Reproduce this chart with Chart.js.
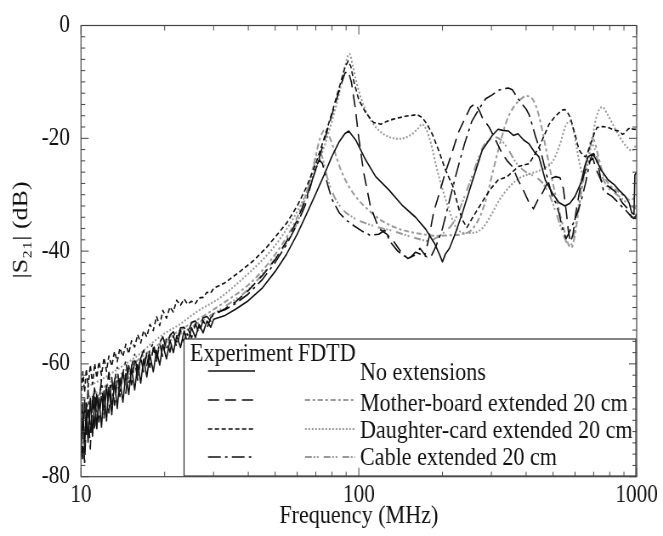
<!DOCTYPE html>
<html>
<head>
<meta charset="utf-8">
<title>|S21| versus frequency</title>
<script src="https://cdn.jsdelivr.net/npm/chart.js@4.4.1/dist/chart.umd.min.js"></script>
<style>
  html, body { margin: 0; padding: 0; background: #fff; }
</style>
</head>
<body>
<!-- drawn 780 wide, shown 663 wide: gives the narrow serif look of the scan -->
<canvas id="chart" width="780" height="536" style="display:block;width:663px;height:536px"></canvas>
<script>
// ---- data (frequency in MHz, |S21| in dB) ----

// noisy low-frequency part shared by the measured curves
const lowFreq = [10, 10.15, 10.3, 10.45, 10.6, 10.8, 11, 11.2, 11.4, 11.6, 11.85, 12.1, 12.35, 12.6, 12.9, 13.2, 13.5, 13.8, 14.15, 14.5,
  14.85, 15.2, 15.6, 16, 16.4, 16.8, 17.25, 17.7, 18.2, 18.7, 19.2, 19.7, 20.3, 20.9, 21.5, 22.1, 22.8, 23.5, 24.2, 25, 25.8, 26.6, 27.5, 28.4, 29.3, 30];

const expNoneLowDb = [-76.5, -68.4, -75.2, -67.0, -73.9, -66.1, -72.8, -65.9, -71.5, -66.0, -71.2, -64.8, -70.1, -64.2, -69.0, -63.1, -67.9, -62.6, -66.8, -61.7,
  -65.4, -60.8, -64.6, -60.1, -63.4, -59.2, -62.3, -58.4, -61.4, -57.6, -60.2, -56.6, -59.1, -55.8, -58.0, -55.0, -57.1, -54.2, -56.3, -53.6, -55.3, -53.0, -54.5, -52.4, -53.5, -52.1];
const expNoneHighFreq = [33, 36, 40, 45, 50, 55, 60, 65, 70, 75, 80, 85, 89, 92, 97.7, 106, 115, 128, 144, 160, 174, 188, 195, 200, 205, 212, 222, 236, 255, 278,
  302, 317, 330, 345, 360, 374, 392, 410, 430, 445, 469, 497, 525, 552, 575, 600, 630, 650, 668, 690, 706, 745, 790, 830, 860, 910, 940, 960, 978, 985, 1000];
const expNoneHighDb = [-51.4, -50.3, -48.8, -46.5, -43.6, -40.5, -37, -33.3, -29.8, -26.5, -23.2, -20.6, -19.2, -18.7, -20.4, -23.9, -26.8, -29.1, -32, -34, -36.1, -38.8, -40.6, -41.9, -40.5, -39.5, -37, -33.2, -27.9, -22.1,
  -19.5, -18.4, -18.6, -18.7, -19.5, -19.2, -20.3, -21, -22.5, -23.3, -27.4, -29.7, -31.4, -32, -31.5, -30.3, -27.9, -25, -23.3, -22.8, -23.3, -25.6, -27.4, -28.2, -29.1, -30.3, -31.5, -33.2, -33.5, -26.5, -26];

const expMbLowDb = [-71.0, -77.5, -66.3, -73.0, -68.2, -75.1, -65.4, -71.9, -64.8, -70.3, -65.2, -69.6, -63.5, -68.7, -62.4, -67.3, -62.9, -65.8, -61.0, -65.2,
  -60.3, -63.7, -59.4, -62.9, -58.7, -61.5, -58.0, -60.6, -57.2, -59.5, -56.4, -58.8, -55.6, -57.9, -55.0, -57.0, -54.1, -56.2, -53.6, -55.4, -52.9, -54.6, -52.3, -53.7, -51.8, -51.4];
const expMbHighFreq = [33, 36, 40, 45, 50, 55, 60, 65, 70, 75, 80, 85, 89, 91.5, 94, 97, 100, 104, 110, 118, 126, 134, 142, 150, 158, 166, 173, 179, 186, 195,
  205, 216, 228, 242, 252, 263, 272, 278, 295, 312, 328, 342, 357, 375, 390, 410, 425, 440, 460, 485, 510, 530, 545, 558, 568, 578, 590, 605, 625, 650,
  675, 695, 715, 745, 790, 840, 890, 930, 960, 990, 1000];
const expMbHighDb = [-50.2, -49.0, -47.0, -44.3, -41.5, -38.2, -34.5, -30.3, -25.5, -20.5, -15.8, -11.5, -8.5, -8.0, -10, -14.5, -20, -26, -32, -36, -37, -38.4, -40.2, -41.3, -40.8, -39.5, -40.7, -37.5, -33, -29.7,
  -26, -22.7, -19, -16.3, -14.5, -13.8, -15.2, -16.3, -18.1, -20.5, -22.7, -24, -25, -27.5, -29.1, -31.4, -32.5, -31, -29.5, -27.2, -26.8, -27, -29, -33, -36.5, -38.5, -37, -33, -29, -26,
  -24.2, -23.5, -25.5, -27.5, -28.5, -29.5, -31.5, -32.5, -34, -34.2, -33];

const expDcLowDb = [-66.2, -61.4, -65.0, -60.9, -64.1, -60.2, -63.6, -59.9, -62.5, -59.6, -62.0, -58.9, -61.3, -58.6, -60.4, -57.8, -59.6, -57.2, -58.7, -56.5,
  -58.2, -55.9, -57.0, -54.8, -56.3, -54.1, -55.2, -53.0, -54.1, -51.6, -53.2, -50.5, -51.9, -49.9, -50.8, -48.7, -49.6, -48.5, -49.4, -48.9, -49.3, -48.3, -48.2, -47.3, -47.4, -46.6];
const expDcHighFreq = [33, 37.6, 42, 46.8, 51, 55.2, 60, 65, 70, 75, 80, 85, 89, 91.5, 93.5, 96, 100, 106, 113, 120, 126, 133, 147, 162, 169, 176, 184, 195, 205, 218,
  229, 236, 245, 255, 270, 286, 300, 317, 342, 375, 410, 445, 465, 484, 505, 525, 540, 552, 565, 577, 588, 600, 612, 622, 640, 655, 672, 690, 705, 720,
  755, 790, 825, 860, 890, 910, 930, 950, 970, 990, 1000];
const expDcHighDb = [-45.6, -43.5, -41.6, -39.2, -37, -34.9, -32, -28.5, -24.5, -20, -15.5, -11, -7.5, -6.3, -7.2, -10, -13.2, -15.5, -17.2, -17.5, -17, -16.6, -16.1, -15.8, -16.3, -17.5, -19.3, -22.5, -25.6, -28.5,
  -32.5, -34.5, -35.8, -34.3, -32.3, -30.3, -28.8, -27.4, -26.8, -25, -24.5, -21.6, -19.5, -17.5, -16.3, -15.5, -15.0, -14.9, -15.5, -16.3, -17.8, -19.3, -21, -22.1, -23, -23.3, -22, -20.4, -19, -18.1,
  -17.9, -18.1, -18.5, -18.7, -19.3, -19, -18.4, -18.1, -18.4, -18.4, -18.6];

const expCableLowDb = [-73.8, -66.9, -78.0, -69.5, -64.7, -72.4, -67.8, -63.9, -70.6, -66.7, -62.8, -68.9, -64.6, -61.5, -67.2, -63.0, -60.6, -65.1, -61.6, -59.4,
  -63.5, -60.5, -58.3, -62.0, -59.0, -57.6, -60.3, -57.5, -56.3, -58.9, -56.2, -55.2, -57.4, -54.9, -54.3, -56.1, -53.6, -53.5, -54.9, -52.6, -52.4, -53.6, -51.8, -51.6, -52.4, -51.0];
const expCableHighFreq = [33, 36, 40, 45, 50, 55, 60, 64, 67, 70, 72, 74, 77, 80, 85, 90, 96, 103, 110, 118, 124, 130, 138, 145, 152, 160, 168, 176, 183, 190,
  200, 212, 225, 240, 255, 270, 286, 302, 318, 330, 345, 357, 372, 388, 400, 410, 420, 433, 445, 457, 469, 483, 497, 512, 525, 535, 545, 557, 568, 580,
  598, 618, 636, 655, 668, 680, 690, 700, 714, 728, 743, 758, 785, 815, 850, 880, 915, 950, 975, 1000];
const expCableHighDb = [-50.4, -49.3, -47.6, -45.0, -42.0, -38.8, -35.2, -32, -28.5, -25.2, -23.8, -24.5, -28, -30.8, -33.2, -34.5, -35.5, -36.5, -37.2, -37, -36.3, -38.4, -40, -40.8, -41.3, -40.2, -40.6, -41, -40.7, -39,
  -36, -31, -26, -21, -17, -14.9, -13, -12.3, -11.5, -11.2, -11.1, -11.4, -12.8, -14, -14.8, -15.8, -17.5, -19.8, -21.5, -23.3, -25.6, -28, -30.3, -31.5, -33.2, -35, -36.6, -37.8, -37, -36,
  -34.5, -32.6, -30.5, -27.9, -25.8, -23.9, -23, -22.7, -23.5, -25, -27.2, -29.1, -29.8, -30.3, -31.2, -32, -32.8, -33.7, -34.2, -33.5];

// FDTD results (smooth)
const fdtdMbFreq = [10, 11, 12, 13.5, 15, 17, 20, 24, 28, 33, 40, 47, 55, 60, 64, 67, 70, 72.5, 75, 78, 82, 86, 92, 100, 110, 120, 135, 150, 170, 190,
  210, 235, 255, 275, 290, 305, 320, 340, 360, 380, 400, 415, 432, 450, 470, 490, 510, 530, 550, 568, 582, 598, 615, 635, 655, 675, 692, 708, 730, 760,
  800, 850, 900, 950, 1000];
const fdtdMbDb = [-66.5, -65.5, -64.2, -62.3, -60.5, -58.3, -55.8, -53.3, -51.3, -49, -46, -42.3, -37.5, -34, -30.5, -27, -23, -20, -18.6, -19.5, -22.5, -25.5, -28.5, -31, -33, -34.5, -35.8, -36.5, -37, -37.3,
  -37.2, -37, -36.2, -33.5, -30, -25.5, -21.5, -17, -14.5, -13.2, -12.5, -12.7, -14, -17, -21.5, -26, -30, -33.5, -36.5, -38.8, -39.4, -37.5, -33.5, -29, -25, -21.5, -20, -20.8, -23.5, -26.5,
  -28.3, -29.3, -30.2, -31, -30];

const fdtdDcFreq = [10, 11, 12, 13.5, 15, 16.4, 18, 20, 22.8, 26, 31.8, 37, 44.3, 50, 55, 60, 65, 70, 75, 80, 85, 89, 92.4, 95, 98, 102, 108, 115, 125, 140,
  155, 163, 169, 175, 182, 190, 200, 210, 222, 240, 262, 280, 300, 320, 350, 380, 420, 460, 500, 530, 555, 575, 592, 610, 630, 650, 670, 690, 710, 735,
  755, 780, 820, 870, 920, 960, 1000];
const fdtdDcDb = [-64.5, -63.6, -62.6, -61, -59.5, -58.1, -56.3, -54.6, -52.9, -50.8, -48.2, -45.5, -41.9, -39, -36.1, -33, -29.5, -25.5, -21.5, -17, -12, -7.5, -5, -7, -10, -13, -16, -18, -19.5, -20.1,
  -19.3, -18.3, -17.5, -18.5, -21, -25, -29, -32.3, -35.5, -36.8, -36.7, -35.8, -33.5, -31, -28.5, -27, -26.2, -25.4, -24, -21, -17.8, -17, -18.5, -22, -25.5, -26.5, -24, -20.5, -17, -14.8,
  -14.5, -15.5, -17.5, -19.8, -21.5, -22.2, -21];

const fdtdCableFreq = [10, 11, 12, 13.5, 15, 17, 20, 24, 28, 33, 40, 47, 55, 60, 63, 66, 68.5, 70.5, 72, 74, 77, 81, 87, 95, 105, 118, 132, 148, 163, 178,
  192, 205, 220, 235, 250, 265, 280, 295, 310, 325, 345, 370, 400, 430, 460, 490, 515, 540, 560, 578, 595, 612, 630, 650, 670, 688, 705, 725, 755, 790,
  840, 890, 940, 1000];
const fdtdCableDb = [-67.5, -66.3, -65, -63, -61.2, -59, -56.5, -54, -52, -49.8, -46.8, -43, -38.5, -35, -32, -28.5, -25.5, -23, -22.2, -23.5, -27, -30, -32.5, -34, -35, -35.8, -36.4, -37.2, -37.8, -38.2,
  -37.5, -36.5, -34.8, -31.5, -28, -24.5, -21.5, -20.3, -19.8, -20.3, -22, -24.5, -26, -26.8, -28, -30.5, -33.5, -36.5, -38.5, -39, -37, -33.5, -29, -25.5, -22.5, -21, -21.8, -24, -27, -28.8,
  -29.8, -30.8, -31.8, -32.5];

const legendLabels = ['No extensions', 'Mother-board extended 20 cm', 'Daughter-card extended 20 cm', 'Cable extended 20 cm'];

// axis ticks
const xTickValues = [10, 100, 1000];
const xMinorTicks = [20, 30, 40, 50, 60, 70, 80, 90, 200, 300, 400, 500, 600, 700, 800, 900];
const yTickValues = [-80, -60, -40, -20, 0];
const yMinorStep = 2;

// ---- styles ----
const SERIF = '"Liberation Serif", "Times New Roman", "DejaVu Serif", serif';
const INK = '#111';
const GREY = '#9a9a9a';

function points(freq, db) {
  return freq.map((f, i) => ({ x: f, y: db[i] }));
}

const datasets = [
  { label: 'Experiment ' + legendLabels[0], data: points(lowFreq.concat(expNoneHighFreq), expNoneLowDb.concat(expNoneHighDb)),
    borderColor: INK, borderWidth: 1.6, borderDash: [] },
  { label: 'Experiment ' + legendLabels[1], data: points(lowFreq.concat(expMbHighFreq), expMbLowDb.concat(expMbHighDb)),
    borderColor: INK, borderWidth: 1.6, borderDash: [13, 7] },
  { label: 'Experiment ' + legendLabels[2], data: points(lowFreq.concat(expDcHighFreq), expDcLowDb.concat(expDcHighDb)),
    borderColor: INK, borderWidth: 1.6, borderDash: [5, 3] },
  { label: 'Experiment ' + legendLabels[3], data: points(lowFreq.concat(expCableHighFreq), expCableLowDb.concat(expCableHighDb)),
    borderColor: INK, borderWidth: 1.6, borderDash: [15, 5, 3, 5] },
  { label: 'FDTD ' + legendLabels[1], data: points(fdtdMbFreq, fdtdMbDb),
    borderColor: GREY, borderWidth: 2, borderDash: [6, 3, 3, 3], cubicInterpolationMode: 'monotone' },
  { label: 'FDTD ' + legendLabels[2], data: points(fdtdDcFreq, fdtdDcDb),
    borderColor: GREY, borderWidth: 2, borderDash: [2, 2], cubicInterpolationMode: 'monotone' },
  { label: 'FDTD ' + legendLabels[3], data: points(fdtdCableFreq, fdtdCableDb),
    borderColor: GREY, borderWidth: 2, borderDash: [8, 2, 2, 2, 2, 6], cubicInterpolationMode: 'monotone' },
];

// frame, inward ticks on all four sides, y title and the two-column legend
const framePlugin = {
  id: 'frameAndLegend',
  afterDraw(chart) {
    const { ctx, chartArea: a, scales: { x, y } } = chart;
    ctx.save();

    // legend box
    const box = { left: 216.5, top: 339, right: 748, bottom: 476 };
    ctx.fillStyle = '#fff';
    ctx.fillRect(box.left, box.top, box.right - box.left, box.bottom - box.top);
    ctx.strokeStyle = '#333';
    ctx.lineWidth = 1.2;
    ctx.setLineDash([]);
    ctx.strokeRect(box.left, box.top, box.right - box.left, box.bottom - box.top);

    ctx.fillStyle = INK;
    ctx.font = `26px ${SERIF}`;
    ctx.textAlign = 'left';
    ctx.textBaseline = 'alphabetic';
    ctx.fillText('Experiment', 223.5, 361);
    ctx.fillText('FDTD', 350.6, 361);

    const rowText = [380, 411, 437.5, 465];
    const rowLine = [371, 400, 429, 457];
    const fdtdIndex = [null, 4, 5, 6];
    legendLabels.forEach((lab, i) => {
      ctx.fillStyle = INK;
      ctx.fillText(lab, 423.5, rowText[i]);
      const sample = (ds, x0, x1) => {
        ctx.beginPath();
        ctx.strokeStyle = ds.borderColor;
        ctx.lineWidth = ds.borderWidth;
        ctx.setLineDash(ds.borderDash);
        ctx.moveTo(x0, rowLine[i]);
        ctx.lineTo(x1, rowLine[i]);
        ctx.stroke();
      };
      sample(chart.data.datasets[i], 244.7, 300);
      if (fdtdIndex[i] !== null) sample(chart.data.datasets[fdtdIndex[i]], 358.8, 417.6);
    });
    ctx.setLineDash([]);

    // frame
    ctx.strokeStyle = '#444';
    ctx.lineWidth = 1.2;
    ctx.strokeRect(a.left, a.top, a.right - a.left, a.bottom - a.top);

    // x ticks (bottom and top, pointing in)
    ctx.lineWidth = 1;
    const xt = xTickValues.map(v => [v, 9]).concat(xMinorTicks.map(v => [v, 5]));
    xt.forEach(([v, len]) => {
      const px = x.getPixelForValue(v);
      ctx.beginPath();
      ctx.moveTo(px, a.bottom); ctx.lineTo(px, a.bottom - len);
      ctx.moveTo(px, a.top); ctx.lineTo(px, a.top + len);
      ctx.stroke();
    });

    // y ticks (left and right, pointing in)
    for (let v = y.min; v <= y.max; v += yMinorStep) {
      const py = y.getPixelForValue(v);
      const len = yTickValues.includes(v) ? 9 : 5;
      ctx.beginPath();
      ctx.moveTo(a.left, py); ctx.lineTo(a.left + len, py);
      ctx.moveTo(a.right, py); ctx.lineTo(a.right - len, py);
      ctx.stroke();
    }

    // y axis title
    ctx.translate(24.7, 230);
    ctx.rotate(-Math.PI / 2);
    ctx.fillStyle = INK;
    ctx.font = `26px ${SERIF}`;
    ctx.textAlign = 'center';
    ctx.textBaseline = 'middle';
    ctx.fillText('|S\u2082\u2081| (dB)', 0, 0);

    ctx.restore();
  },
};

new Chart(document.getElementById('chart'), {
  type: 'line',
  data: { datasets },
  options: {
    responsive: false,
    animation: false,
    devicePixelRatio: 1,
    events: [],
    layout: { padding: { top: 16, right: 29.4, bottom: 0, left: 0 } },
    elements: {
      point: { radius: 0 },
      line: { tension: 0, borderJoinStyle: 'round', fill: false },
    },
    plugins: {
      legend: { display: false },
      tooltip: { enabled: false },
    },
    scales: {
      x: {
        type: 'logarithmic',
        min: 10,
        max: 1000,
        grid: { display: false, drawTicks: false },
        border: { display: false },
        afterBuildTicks: (s) => { s.ticks = xTickValues.map(v => ({ value: v })); },
        afterFit: (s) => { s.height = 59.3; },
        ticks: {
          autoSkip: false,
          maxRotation: 0,
          padding: 6,
          color: INK,
          font: { family: SERIF, size: 25, lineHeight: 1 },
          callback: (v) => String(v),
        },
        title: {
          display: true,
          text: 'Frequency (MHz)',
          color: INK,
          font: { family: SERIF, size: 26, lineHeight: 1 },
          padding: { top: 0, bottom: 7 },
        },
      },
      y: {
        min: -80,
        max: 0,
        grid: { display: false, drawTicks: false },
        border: { display: false },
        afterBuildTicks: (s) => { s.ticks = yTickValues.map(v => ({ value: v })); },
        afterFit: (s) => { s.width = 95.3; },
        ticks: {
          padding: 13,
          color: INK,
          font: { family: SERIF, size: 25, lineHeight: 1 },
          callback: (v) => String(v),
        },
      },
    },
  },
  plugins: [framePlugin],
});
</script>
</body>
</html>
